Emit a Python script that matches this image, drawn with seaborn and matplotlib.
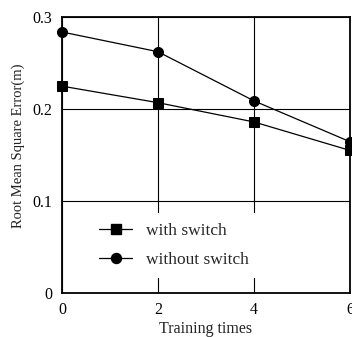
import matplotlib
matplotlib.use("Agg")
import matplotlib.pyplot as plt
import seaborn as sns
import pandas as pd
from matplotlib.lines import Line2D

sns.set_style("white")
plt.rcParams['font.family'] = ['Liberation Serif', 'DejaVu Serif']

training_times = [0, 2, 4, 6]
with_switch = [0.225, 0.207, 0.186, 0.155]
without_switch = [0.284, 0.2625, 0.209, 0.1645]
series_names = ["with switch", "without switch"]

df = pd.DataFrame({
    "x": training_times * 2,
    "y": with_switch + without_switch,
    "series": [series_names[0]] * 4 + [series_names[1]] * 4,
})

fig = plt.figure(figsize=(3.52, 3.37), dpi=100)
ax = fig.add_axes([0.176, 0.1315, 0.818, 0.8172])

sns.lineplot(data=df, x="x", y="y", hue="series", style="series",
             markers={series_names[0]: "s", series_names[1]: "o"},
             dashes=False, palette={series_names[0]: "black", series_names[1]: "black"},
             linewidth=0.9, markersize=7.2, markeredgecolor="black",
             ax=ax, legend=False, clip_on=False, zorder=3)

ax.set_xlim(0, 6)
ax.set_ylim(0, 0.3)
ax.set_xticks([0, 2, 4, 6])
ax.set_yticks([0, 0.1, 0.2, 0.3])
ax.set_yticklabels(["0", "0.1", "0.2", "0.3"])
ax.grid(True, color="black", linewidth=0.8)
ax.tick_params(direction="out", length=5, width=1, labelsize=11.5, colors="black", pad=2)
for s in ax.spines.values():
    s.set_color("black")
    s.set_linewidth(1.3)

ax.set_xlabel("Training times", fontsize=11.5, labelpad=2, color="#222222")
ax.set_ylabel("Root Mean Square Error(m)", fontsize=10.5, color="#222222")
ax.yaxis.set_label_coords(-0.128, 0.535)

handles = [Line2D([], [], color="black", marker="s", markersize=7.2, linewidth=0.9),
           Line2D([], [], color="black", marker="o", markersize=7.2, linewidth=0.9)]
leg = ax.legend(handles, series_names, loc="upper left", bbox_to_anchor=(0.094, 0.29),
                borderaxespad=0, frameon=True, fontsize=12.5, handlelength=1.9,
                labelspacing=0.7, borderpad=0.6, handletextpad=0.8)
leg.get_frame().set_edgecolor("white")
leg.get_frame().set_facecolor("white")
leg.get_frame().set_alpha(1)
leg.get_frame().set_linewidth(0)

fig.savefig("out.png", dpi=100)
